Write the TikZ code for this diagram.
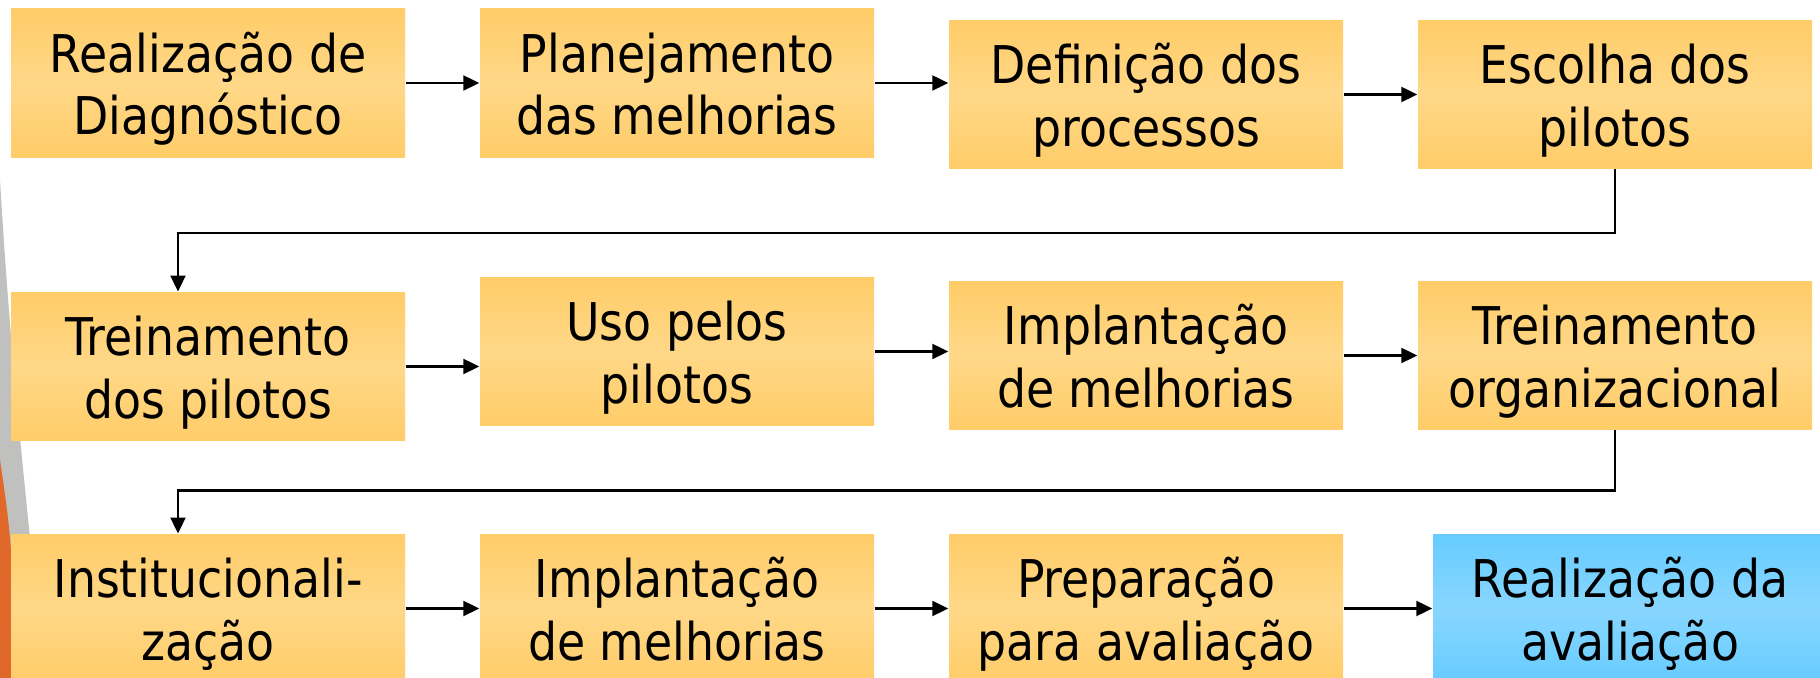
\documentclass[tikz,border=0pt]{standalone}
\usepackage{fontspec}
\setmainfont[FakeStretch=0.88]{DejaVu Sans}
\usetikzlibrary{arrows.meta,positioning}
\definecolor{boxgold}{RGB}{255,204,104}
\definecolor{boxlight}{RGB}{255,216,136}
\definecolor{boxblue}{RGB}{102,204,255}
\definecolor{bluelight}{RGB}{136,214,255}
\definecolor{slidegray}{RGB}{192,192,190}
\definecolor{slideorange}{RGB}{224,104,42}

\begin{document}
\begin{tikzpicture}[x=0.1mm, y=0.1mm, >={Triangle[length=1.6mm,width=1.5mm]},
  stage/.style={minimum width=39.4mm, minimum height=14.85mm, inner sep=0pt, align=center,
    top color=boxgold, bottom color=boxgold, middle color=boxlight,
    font=\fontsize{14.8pt}{17.9pt}\selectfont, text height=10.8mm, text depth=0.4mm},
  goal/.style={stage, top color=boxblue, bottom color=boxblue, middle color=bluelight},
  flow/.style={->, line width=0.6pt}]
  \useasboundingbox (0,0) rectangle (1820,678);
  \fill[white] (0,0) rectangle (1820,678);
  % Slide background
  \fill[slidegray] (0,498) .. controls (10,330) and (22,220) .. (34,100) -- (34,0) -- (0,0) -- cycle;
  \fill[slideorange] (0,218) .. controls (10,150) .. (20,0) -- (0,0) -- cycle;
  % Row 1
  \node[stage] (diag) at (208,595) {Realização de\\Diagnóstico};
  \node[stage] (plan) at (677,595) {Planejamento\\das melhorias};
  \node[stage] (proc) at (1146,583.5) {Definição dos\\processos};
  \node[stage] (esc) at (1615,583.5) {Escolha dos\\pilotos};
  % Row 2
  \node[stage] (trp) at (208,311.5) {Treinamento\\dos pilotos};
  \node[stage] (uso) at (677,326.5) {Uso pelos\\pilotos};
  \node[stage] (imp) at (1146,322.5) {Implantação\\de melhorias};
  \node[stage] (tro) at (1615,322.5) {Treinamento\\organizacional};
  % Row 3
  \node[stage] (inst) at (208,69.5) {Institucionali-\\zação};
  \node[stage] (impf) at (677,69.5) {Implantação\\de melhorias};
  \node[stage] (prep) at (1146,69.5) {Preparação\\para avaliação};
  \node[goal] (aval) at (1630,69.5) {Realização da\\avaliação};
  % Arrows along the rows
  \foreach \a/\b in {diag/plan, plan/proc, proc/esc, trp/uso, uso/imp, imp/tro,
                     inst/impf, impf/prep, prep/aval}
    \draw[flow] (\a.east) -- (\a.east -| \b.west);
  % Row changes
  \draw[flow] (esc.south) -- ++(0,-64) -| ([xshift=-3mm]trp.north);
  \draw[flow] (tro.south) -- ++(0,-60) -| ([xshift=-3mm]inst.north);
\end{tikzpicture}
\end{document}
